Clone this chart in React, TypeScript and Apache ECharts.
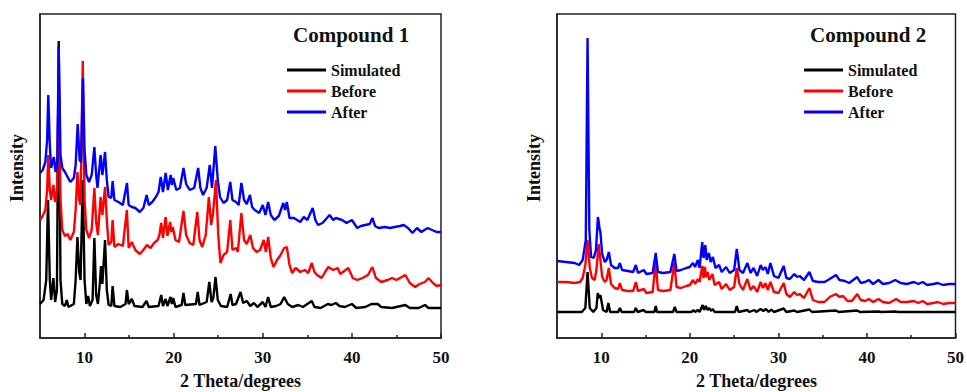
import React, { useEffect, useRef } from "react";
import * as echarts from "echarts";

const xTickLabels = [10, 20, 30, 40, 50];
const xMinorTicks = [15, 25, 35, 45];
const seriesNames = ["Simulated", "Before", "After"];
const seriesColors = ["#000000", "#ff0000", "#0000ff"];
const panelTitles = ["Compound 1", "Compound 2"];
const xAxisTitle = "2 Theta/degrees";
const yAxisTitle = "Intensity";

// Compound 1 — [2θ, intensity (arb. units, stacked offsets)]
const c1Simulated: number[][] = [
  [5.0, 36], [5.4, 40], [5.7, 60], [5.9, 140], [6.1, 60], [6.25, 40], [6.5, 62], [6.7, 38], [6.9, 50],
  [7.1, 299], [7.3, 60], [7.5, 36], [7.8, 34], [8.0, 40], [8.2, 33], [8.8, 36], [9.0, 60], [9.2, 103],
  [9.4, 68], [9.55, 60], [9.8, 160], [10.0, 60], [10.2, 36], [10.4, 44], [10.6, 34], [10.9, 40],
  [11.1, 102], [11.3, 45], [11.5, 36], [11.7, 55], [11.85, 74], [12.0, 56], [12.3, 100], [12.5, 50],
  [12.7, 35], [13.0, 34], [13.15, 54], [13.35, 34], [14.0, 33], [14.6, 36], [14.75, 50], [14.95, 36],
  [15.3, 41], [15.6, 34], [16.5, 33], [16.95, 39], [17.2, 33], [18.3, 34], [18.6, 45], [18.8, 34],
  [19.1, 41], [19.3, 34], [19.65, 43], [19.8, 36], [19.95, 42], [20.2, 33], [20.9, 35], [21.1, 47],
  [21.3, 35], [22.5, 36], [22.7, 48], [22.9, 35], [23.7, 38], [24.0, 58], [24.25, 38], [24.45, 42],
  [24.7, 63], [24.95, 40], [25.3, 34], [26.0, 33], [26.4, 46], [26.6, 35], [27.0, 36], [27.5, 48],
  [27.8, 37], [28.2, 39], [28.6, 34], [29.0, 37], [29.4, 33], [30.0, 38], [30.3, 33], [30.6, 43],
  [30.9, 33], [31.5, 34], [32.0, 36], [32.4, 43], [32.8, 36], [33.3, 33], [34.0, 35], [34.5, 33],
  [35.5, 39], [35.8, 33], [36.5, 32], [37.3, 36], [37.7, 35], [38.2, 37], [38.6, 34], [39.2, 33],
  [40.0, 36], [40.5, 32], [41.5, 33], [42.2, 36], [42.9, 36], [43.3, 33], [44.5, 32], [46.0, 35],
  [46.5, 32], [47.5, 32], [48.2, 35], [48.6, 32], [50.0, 32],
];

const c1Before: number[][] = [
  [5.0, 120], [5.3, 124], [5.6, 130], [5.8, 150], [5.93, 185], [6.1, 150], [6.25, 140], [6.5, 155],
  [6.7, 138], [6.9, 150], [7.1, 270], [7.3, 140], [7.5, 110], [7.8, 104], [8.1, 106], [8.4, 100],
  [8.8, 108], [9.0, 130], [9.2, 168], [9.4, 140], [9.55, 135], [9.8, 279], [10.0, 140], [10.2, 110],
  [10.5, 102], [10.8, 110], [11.1, 152], [11.3, 118], [11.5, 105], [11.8, 143], [12.0, 125], [12.3, 153],
  [12.5, 120], [12.7, 95], [13.0, 98], [13.15, 120], [13.35, 93], [13.8, 96], [14.3, 94], [14.75, 130],
  [14.95, 92], [15.3, 98], [15.7, 90], [16.2, 86], [16.6, 90], [17.0, 95], [17.4, 92], [17.8, 97],
  [18.2, 100], [18.4, 105], [18.6, 117], [18.8, 102], [19.1, 123], [19.3, 104], [19.6, 118], [19.75, 108],
  [19.9, 113], [20.2, 100], [20.6, 98], [21.1, 129], [21.4, 105], [21.8, 97], [22.2, 95], [22.65, 128],
  [22.9, 100], [23.2, 93], [23.6, 105], [23.95, 143], [24.2, 115], [24.4, 125], [24.75, 160], [25.0, 105],
  [25.25, 77], [25.6, 85], [26.0, 88], [26.35, 120], [26.6, 90], [27.0, 92], [27.2, 88], [27.6, 127],
  [27.9, 100], [28.2, 96], [28.6, 105], [28.9, 92], [29.3, 88], [29.7, 90], [30.1, 100], [30.35, 88],
  [30.6, 103], [30.9, 82], [31.2, 73], [31.6, 80], [32.0, 85], [32.4, 92], [32.7, 93], [33.0, 75],
  [33.3, 67], [33.7, 72], [34.2, 68], [34.7, 70], [35.1, 67], [35.5, 77], [35.8, 68], [36.1, 65],
  [36.6, 62], [37.0, 68], [37.35, 73], [37.9, 70], [38.4, 72], [38.7, 66], [39.0, 68], [39.6, 72],
  [40.1, 62], [40.6, 60], [41.2, 62], [41.8, 65], [42.3, 73], [42.7, 62], [43.3, 58], [44.0, 60],
  [44.5, 62], [45.0, 60], [45.6, 63], [46.0, 65], [46.5, 57], [47.1, 53], [47.6, 56], [48.2, 58],
  [48.6, 62], [49.1, 57], [49.5, 54], [50.0, 55],
];

const c1After: number[][] = [
  [5.0, 167], [5.3, 170], [5.6, 178], [5.8, 200], [5.93, 245], [6.1, 195], [6.25, 172], [6.55, 183],
  [6.75, 168], [6.95, 180], [7.1, 293], [7.3, 185], [7.5, 172], [7.8, 168], [8.1, 163], [8.4, 158],
  [8.8, 162], [9.0, 175], [9.23, 216], [9.45, 180], [9.6, 178], [9.82, 262], [10.0, 190], [10.2, 165],
  [10.5, 158], [10.8, 165], [11.1, 193], [11.3, 165], [11.45, 152], [11.8, 185], [12.0, 165], [12.3, 188],
  [12.5, 160], [12.7, 143], [13.0, 142], [13.15, 159], [13.35, 140], [13.8, 138], [14.3, 135], [14.76, 157],
  [14.95, 135], [15.3, 133], [15.7, 132], [16.2, 128], [16.6, 132], [16.97, 145], [17.2, 135], [17.6, 138],
  [18.0, 143], [18.3, 148], [18.55, 163], [18.8, 148], [19.1, 167], [19.35, 150], [19.66, 165], [19.8, 155],
  [19.95, 162], [20.3, 150], [20.7, 152], [21.1, 172], [21.4, 156], [21.8, 150], [22.3, 152], [22.75, 172],
  [23.0, 152], [23.3, 145], [23.7, 152], [24.05, 175], [24.3, 152], [24.67, 194], [24.95, 160], [25.2, 143],
  [25.6, 137], [26.0, 140], [26.35, 158], [26.6, 140], [27.0, 138], [27.3, 135], [27.6, 157], [27.9, 140],
  [28.2, 136], [28.56, 145], [28.8, 133], [29.1, 130], [29.6, 127], [30.0, 135], [30.3, 125], [30.6, 138],
  [30.9, 125], [31.3, 120], [31.8, 124], [32.3, 137], [32.5, 130], [32.7, 138], [33.0, 122], [33.5, 122],
  [34.2, 118], [34.6, 123], [35.0, 120], [35.6, 132], [35.9, 120], [36.2, 115], [36.7, 117], [37.2, 122],
  [37.5, 125], [37.9, 120], [38.2, 122], [38.9, 120], [39.4, 117], [40.0, 120], [40.6, 112], [41.0, 114],
  [41.5, 115], [42.0, 116], [42.3, 122], [42.6, 114], [43.0, 112], [43.7, 113], [44.3, 112], [44.8, 113],
  [45.4, 114], [45.8, 115], [46.3, 112], [46.8, 107], [47.3, 112], [47.8, 108], [48.5, 112], [49.0, 110],
  [49.5, 108], [50.0, 108],
];

// Compound 2
const c2Simulated: number[][] = [
  [5.0, 28], [7.8, 28], [8.2, 32], [8.45, 68], [8.7, 32], [9.1, 28], [9.45, 32], [9.6, 47], [9.75, 42],
  [9.9, 45], [10.2, 30], [10.6, 28], [10.8, 37], [11.0, 28], [11.9, 28], [12.1, 32], [12.3, 28], [13.7, 28],
  [13.9, 32], [14.1, 28], [14.8, 30], [15.0, 28], [16.0, 28], [16.15, 34], [16.3, 28], [18.1, 28], [18.3, 33],
  [18.5, 28], [20.2, 28], [20.4, 30], [20.6, 28], [20.9, 30], [21.1, 28], [21.45, 35], [21.6, 30], [21.8, 34],
  [22.0, 30], [22.2, 32], [22.4, 29], [22.6, 31], [22.8, 28], [25.1, 28], [25.3, 34], [25.5, 28], [26.5, 30],
  [26.7, 28], [27.3, 30], [27.5, 28], [28.0, 31], [28.3, 29], [28.6, 31], [28.9, 28], [29.2, 30.5], [29.5, 28],
  [30.6, 31.5], [30.9, 28], [31.8, 29.5], [32.1, 28], [33.5, 30.5], [33.8, 28], [36.5, 29.5], [36.8, 28],
  [38.9, 29.5], [39.2, 28], [41.3, 28.5], [41.6, 28], [43.2, 28.5], [43.5, 28], [50.0, 28],
];

const c2Before: number[][] = [
  [5.0, 58], [6.0, 58], [7.0, 57], [7.6, 58], [7.9, 62], [8.2, 75], [8.45, 100], [8.7, 72], [8.95, 62],
  [9.25, 60], [9.45, 70], [9.7, 96], [9.9, 80], [10.1, 63], [10.4, 58], [10.6, 60], [10.85, 72], [11.1, 56],
  [11.5, 52], [11.9, 51], [12.1, 57], [12.35, 50], [13.0, 49], [13.6, 49], [13.9, 58], [14.15, 49], [14.8, 51],
  [15.1, 47], [15.8, 48], [16.15, 77], [16.4, 50], [17.0, 49], [17.8, 50], [18.25, 77], [18.5, 53], [19.0, 52],
  [19.6, 54], [20.0, 55], [20.35, 60], [20.6, 56], [20.9, 61], [21.1, 58], [21.4, 74], [21.55, 62], [21.7, 73],
  [21.85, 63], [22.0, 68], [22.2, 60], [22.55, 66], [22.8, 55], [23.3, 58], [23.6, 51], [24.1, 56], [24.5, 50],
  [25.0, 53], [25.3, 72], [25.6, 56], [26.0, 50], [26.5, 61], [26.85, 50], [27.2, 54], [27.6, 48], [28.0, 58],
  [28.25, 52], [28.55, 57], [28.8, 50], [29.1, 58], [29.5, 48], [30.0, 47], [30.6, 57], [30.9, 46], [31.3, 43],
  [31.8, 48], [32.1, 45], [32.4, 46], [32.9, 42], [33.5, 52], [33.9, 40], [34.5, 38], [35.2, 38], [35.8, 43],
  [36.5, 46], [36.9, 43], [37.3, 44], [37.8, 39], [38.3, 39], [38.9, 46], [39.3, 40], [39.8, 39], [40.2, 41],
  [40.7, 38], [41.3, 41], [41.8, 38], [42.5, 37], [43.3, 41], [43.8, 38], [44.5, 38], [45.3, 39], [45.8, 37],
  [46.3, 39], [46.8, 36], [47.5, 37], [48.0, 38], [48.6, 36], [49.3, 37], [50.0, 37],
];

const c2After: number[][] = [
  [5.0, 79], [6.0, 78], [7.0, 77], [7.5, 75], [7.9, 80], [8.25, 100], [8.45, 302], [8.65, 110], [8.85, 83],
  [9.15, 82], [9.4, 90], [9.62, 123], [9.8, 112], [9.9, 108], [10.1, 86], [10.4, 78], [10.6, 80], [10.85, 88],
  [11.1, 75], [11.5, 72], [11.9, 72], [12.1, 77], [12.35, 70], [13.0, 69], [13.6, 68], [13.9, 75], [14.15, 67],
  [14.8, 70], [15.1, 66], [15.8, 67], [16.15, 87], [16.4, 68], [17.0, 67], [17.8, 68], [18.25, 86], [18.5, 69],
  [19.0, 70], [19.6, 72], [20.0, 73], [20.35, 77], [20.6, 73], [20.9, 80], [21.1, 72], [21.4, 98], [21.55, 82],
  [21.75, 95], [21.9, 80], [22.15, 87], [22.35, 78], [22.6, 83], [22.9, 72], [23.3, 75], [23.6, 68], [24.1, 73],
  [24.5, 67], [25.0, 70], [25.3, 91], [25.6, 70], [26.0, 67], [26.5, 77], [26.85, 67], [27.2, 72], [27.6, 64],
  [28.0, 75], [28.25, 70], [28.55, 73], [28.8, 66], [29.1, 77], [29.5, 64], [30.0, 62], [30.6, 74], [30.9, 62],
  [31.3, 61], [31.8, 66], [32.1, 63], [32.4, 64], [32.9, 60], [33.5, 68], [33.9, 59], [34.5, 58], [35.2, 58],
  [35.8, 61], [36.5, 65], [36.9, 60], [37.5, 59], [38.0, 57], [38.9, 63], [39.3, 57], [39.8, 58], [40.2, 60],
  [40.7, 56], [41.3, 60], [41.8, 56], [42.5, 57], [43.2, 60], [43.8, 57], [44.5, 56], [45.3, 58], [45.8, 56],
  [46.3, 58], [46.8, 55], [47.5, 56], [48.0, 57], [48.6, 55], [49.3, 56], [50.0, 56],
];

const panelData = [
  [c1Simulated, c1Before, c1After],
  [c2Simulated, c2Before, c2After],
];

const FONT = "'Liberation Serif', 'Times New Roman', serif";

const grids = [
  { left: 40, top: 14, width: 401, height: 324 },
  { left: 557, top: 14, width: 399, height: 324 },
];

export default function App() {
  const ref = useRef<HTMLDivElement>(null);

  useEffect(() => {
    document.body.style.margin = "0";
    if (!ref.current) return;
    const chart = echarts.init(ref.current, null, { renderer: "svg" });

    const xAxes: any[] = [];
    const yAxes: any[] = [];
    const series: any[] = [];
    grids.forEach((g, i) => {
      xAxes.push({
        type: "value",
        gridIndex: i,
        min: 5,
        max: 50,
        position: "bottom",
        axisLine: { show: true, onZero: false, lineStyle: { color: "#222", width: 1.5 } },
        axisTick: { show: true, inside: true, length: 5, customValues: xTickLabels, lineStyle: { color: "#222", width: 1.5 } },
        axisLabel: {
          show: true,
          customValues: xTickLabels,
          margin: 11,
          color: "#111",
          fontFamily: FONT,
          fontWeight: "bold",
          fontSize: 17,
        },
        splitLine: { show: false },
      });
      xAxes.push({
        type: "value",
        gridIndex: i,
        min: 5,
        max: 50,
        position: "bottom",
        offset: 0,
        axisLine: { show: false },
        axisTick: { show: true, inside: true, length: 3, customValues: xMinorTicks, lineStyle: { color: "#222", width: 1.5 } },
        axisLabel: { show: false },
        splitLine: { show: false },
      });
      yAxes.push({
        type: "value",
        gridIndex: i,
        min: 2,
        max: 326,
        axisLine: { show: true, lineStyle: { color: "#222", width: 1.5 } },
        axisTick: { show: false },
        axisLabel: { show: false },
        splitLine: { show: false },
      });
      panelData[i].forEach((d, k) => {
        series.push({
          type: "line",
          name: seriesNames[k],
          xAxisIndex: i * 2,
          yAxisIndex: i,
          data: d,
          showSymbol: false,
          symbol: "none",
          lineStyle: { color: seriesColors[k], width: 2.4 },
          itemStyle: { color: seriesColors[k] },
          z: 2 + k,
        });
      });
    });

    const legendCommon = {
      orient: "vertical",
      top: 62,
      padding: 0,
      itemWidth: 39,
      itemHeight: 3,
      itemGap: 5,
      icon: "rect",
      data: seriesNames,
      textStyle: { fontFamily: FONT, fontWeight: "bold", fontSize: 16, color: "#111", lineHeight: 16 },
    };

    const titleCommon = {
      top: 24,
      padding: 0,
      textStyle: { fontFamily: FONT, fontWeight: "bold", fontSize: 21, color: "#111" },
    };

    const textEl = (text: string, x: number, y: number, rotation = 0) => ({
      type: "text",
      x,
      y,
      rotation,
      style: {
        text,
        fill: "#111",
        font: `bold 18px ${FONT}`,
        textAlign: "center",
        textVerticalAlign: "middle",
        align: "center",
        verticalAlign: "middle",
      },
    });

    chart.setOption({
      animation: false,
      backgroundColor: "#ffffff",
      grid: grids.map((g) => ({
        ...g,
        show: true,
        borderColor: "#222",
        borderWidth: 1.5,
        backgroundColor: "transparent",
        containLabel: false,
      })),
      xAxis: xAxes,
      yAxis: yAxes,
      title: [
        { ...titleCommon, text: panelTitles[0], left: 293 },
        { ...titleCommon, text: panelTitles[1], left: 810 },
      ],
      legend: [
        { ...legendCommon, left: 287 },
        { ...legendCommon, left: 804 },
      ],
      graphic: [
        textEl(xAxisTitle, 240.5, 381),
        textEl(xAxisTitle, 756.5, 381),
        textEl(yAxisTitle, 17, 168, Math.PI / 2),
        textEl(yAxisTitle, 534, 168, Math.PI / 2),
      ],
      series,
    });

    return () => {
      chart.dispose();
    };
  }, []);

  return (
    <div
      ref={ref}
      style={{ position: "absolute", left: 0, top: 0, width: 967, height: 392, background: "#fff" }}
    />
  );
}
